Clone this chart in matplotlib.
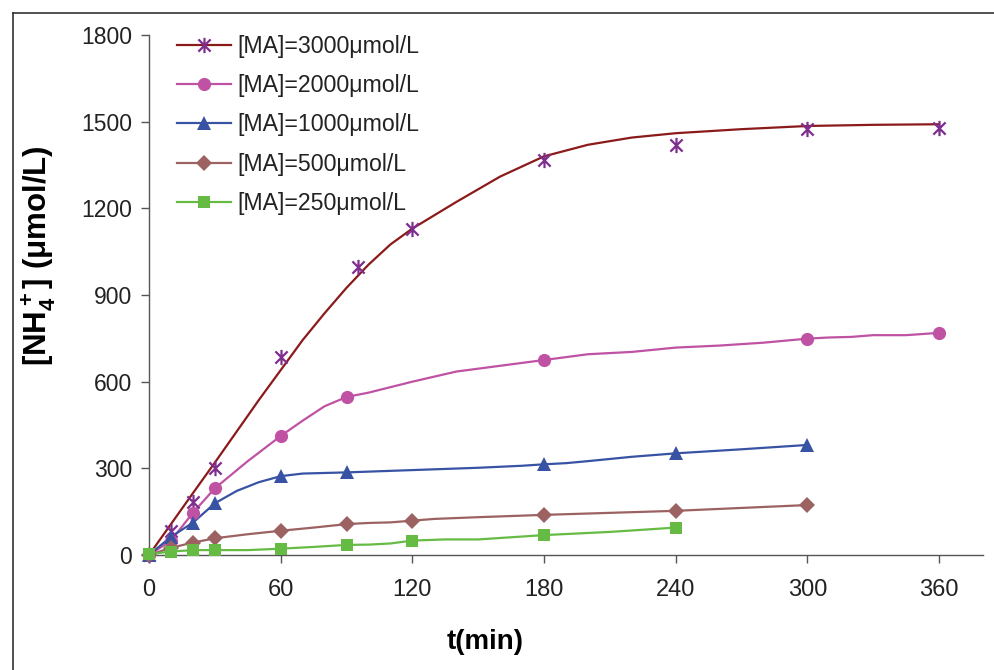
import matplotlib
matplotlib.use("Agg")
import matplotlib.pyplot as plt
from matplotlib.lines import Line2D
from matplotlib.path import Path

plt.rcParams["font.family"] = ["Liberation Sans", "DejaVu Sans"]
plt.rcParams["mathtext.default"] = "regular"

# measured points (markers)
t3000 = [0, 10, 20, 30, 60, 95, 120, 180, 240, 300, 360]
v3000 = [0, 83, 185, 302, 684, 996, 1127, 1366, 1419, 1473, 1479]
t2000 = [0, 10, 20, 30, 60, 90, 180, 300, 360]
v2000 = [0, 50, 146, 231, 412, 547, 675, 749, 769]
t1000 = [0, 10, 20, 30, 60, 90, 180, 240, 300]
v1000 = [0, 63, 112, 179, 273, 286, 314, 352, 381]
t500 = [0, 10, 20, 30, 60, 90, 120, 180, 240, 300]
v500 = [0, 25, 43, 58, 84, 107, 119, 139, 153, 173]
t250 = [0, 10, 20, 30, 60, 90, 120, 180, 240]
v250 = [3, 12, 17, 17, 22, 35, 50, 69, 95]

# curves as drawn in the chart
lt3000 = [0, 10, 20, 30, 40, 50, 60, 70, 80, 90, 100, 110, 120, 140, 160, 180,
          200, 220, 240, 270, 300, 330, 360]
lv3000 = [0, 107, 214, 320, 428, 536, 640, 744, 837, 925, 1005, 1075, 1130, 1222,
          1310, 1380, 1420, 1445, 1460, 1474, 1485, 1489, 1491]
lt2000 = [0, 10, 20, 30, 45, 60, 70, 80, 90, 100, 120, 140, 160, 180, 200, 220,
          240, 260, 280, 300, 310, 320, 330, 345, 360]
lv2000 = [0, 50, 146, 231, 325, 412, 465, 515, 547, 562, 600, 635, 655, 675, 695,
          703, 718, 725, 735, 749, 753, 755, 761, 761, 769]
lt1000 = [0, 10, 20, 30, 40, 50, 60, 70, 90, 120, 150, 170, 180, 190, 200, 220,
          240, 270, 300]
lv1000 = [0, 63, 112, 179, 222, 252, 273, 282, 286, 294, 302, 309, 314, 318, 325,
          340, 352, 366, 381]
lt500 = [0, 10, 20, 30, 45, 60, 75, 90, 100, 110, 120, 130, 150, 180, 240, 300]
lv500 = [0, 25, 43, 58, 72, 84, 95, 107, 111, 113, 119, 125, 131, 139, 153, 173]
lt250 = [0, 10, 20, 30, 45, 60, 75, 90, 100, 110, 120, 135, 150, 180, 210, 240]
lv250 = [3, 12, 17, 17, 17, 22, 28, 35, 36, 40, 50, 54, 54, 69, 80, 95]

labels = ["[MA]=3000μmol/L", "[MA]=2000μmol/L", "[MA]=1000μmol/L",
          "[MA]=500μmol/L", "[MA]=250μmol/L"]

# star marker: vertical bar plus an x
star = Path([(0, -1), (0, 1), (-0.8, -0.8), (0.8, 0.8), (-0.8, 0.8), (0.8, -0.8)],
            [Path.MOVETO, Path.LINETO, Path.MOVETO, Path.LINETO, Path.MOVETO, Path.LINETO])

series = [
    (lt3000, lv3000, t3000, v3000, "#8B1A1A", "#7E2F8E", star, 11),
    (lt2000, lv2000, t2000, v2000, "#C052A4", "#C052A4", "o", 9.5),
    (lt1000, lv1000, t1000, v1000, "#3953A4", "#3953A4", "^", 10.5),
    (lt500, lv500, t500, v500, "#9C6262", "#9C6262", "D", 8),
    (lt250, lv250, t250, v250, "#66BB44", "#66BB44", "s", 8.5),
]

fig = plt.figure(figsize=(9.94, 6.70), dpi=100)
ax = fig.add_axes([0.1499, 0.1716, 0.8391, 0.7762])

handles = []
for lt, lv, mt, mv, lc, mc, mk, ms in series:
    ax.plot(lt, lv, color=lc, lw=1.6, zorder=2, clip_on=False)
    mew = 1.6 if mk is star else 0
    ax.plot(mt, mv, ls="none", marker=mk, ms=ms, color=mc, mec=mc, mfc=mc,
            mew=mew, zorder=3, clip_on=False)
    handles.append(Line2D([], [], color=lc, lw=1.6, marker=mk, ms=ms,
                          mfc=mc, mec=mc, mew=mew))

ax.set_xlim(0, 380)
ax.set_ylim(0, 1800)
ax.set_xticks([0, 60, 120, 180, 240, 300, 360])
ax.set_yticks([0, 300, 600, 900, 1200, 1500, 1800])
ax.spines["top"].set_visible(False)
ax.spines["right"].set_visible(False)
for s in ("left", "bottom"):
    ax.spines[s].set_color("#555555")
    ax.spines[s].set_linewidth(1.0)
ax.tick_params(direction="out", length=6, width=1, color="#555555",
               labelcolor="#222222")
ax.tick_params(axis="y", labelsize=16.5, pad=6)
ax.tick_params(axis="x", labelsize=17, pad=11)

ax.set_xlabel("t(min)", fontsize=20, fontweight="bold")
ax.xaxis.set_label_coords(0.403, -0.142)
ax.set_ylabel("[NH$_4^+$] (μmol/L)", fontsize=22.5, fontweight="bold")
ax.yaxis.set_label_coords(-0.109, 0.575)

leg = ax.legend(handles, labels, loc="upper left", bbox_to_anchor=(0.034, 1.0),
                frameon=False, fontsize=16.7, handlelength=2.3, handletextpad=0.3,
                labelspacing=0.7, borderpad=0, borderaxespad=0)
for txt in leg.get_texts():
    txt.set_color("#222222")

# outer frame of the original figure (left and top edges visible)
fig.add_artist(Line2D([12.5 / 994, 12.5 / 994], [0, 1 - 13 / 670],
                      transform=fig.transFigure, color="#333333", lw=1.2))
fig.add_artist(Line2D([12.5 / 994, 1], [1 - 13 / 670, 1 - 13 / 670],
                      transform=fig.transFigure, color="#333333", lw=1.2))

fig.savefig("out.png", dpi=100)
